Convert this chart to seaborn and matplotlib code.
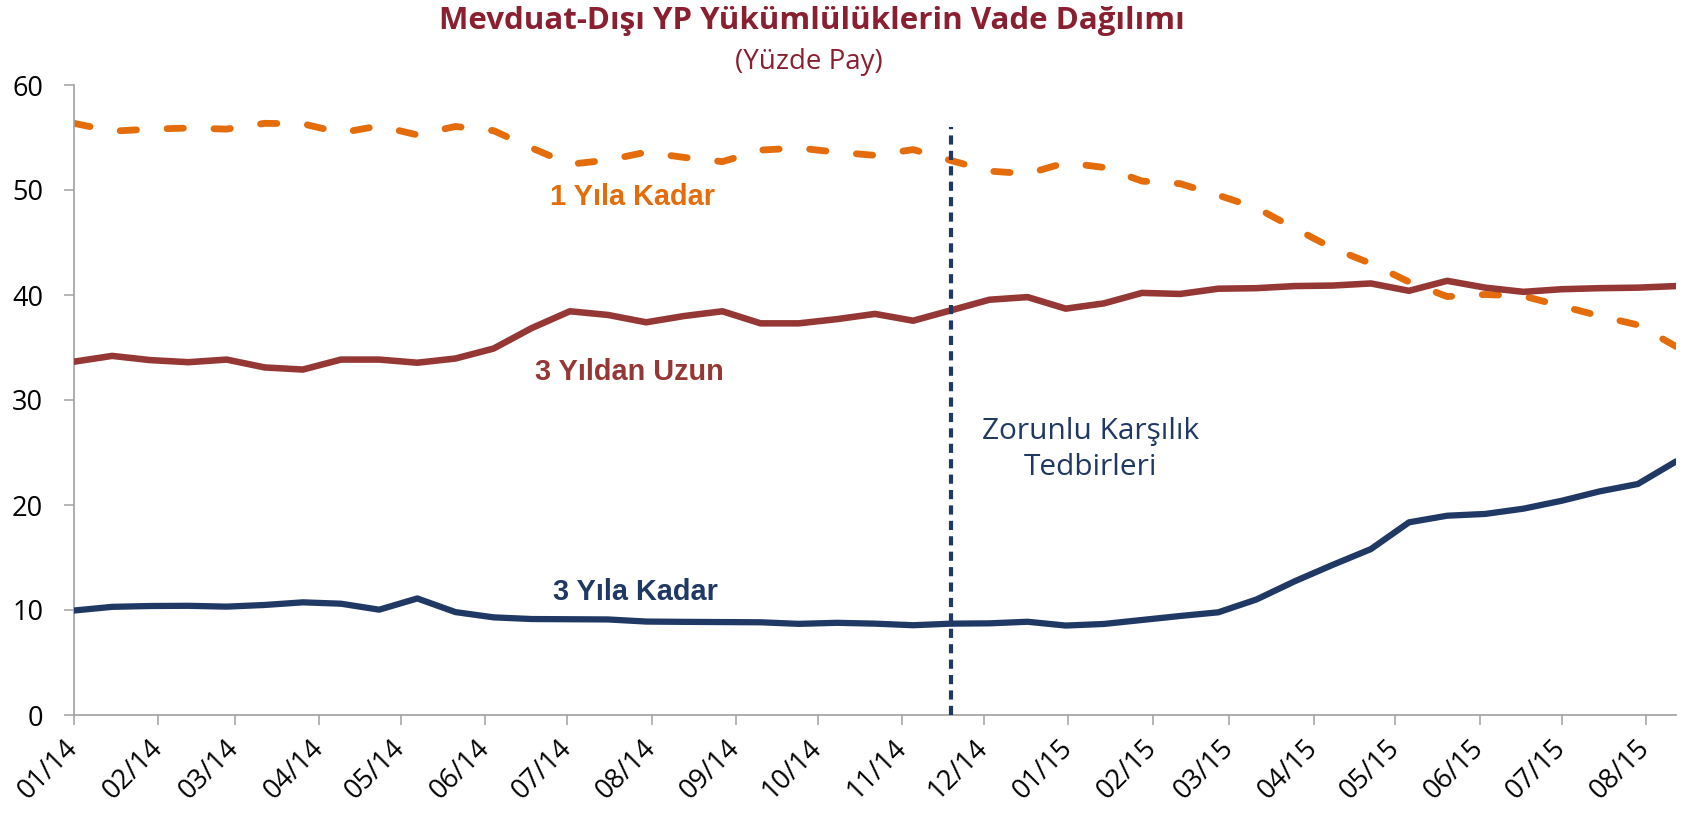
import numpy as np
import pandas as pd
import matplotlib
matplotlib.use("Agg")
import matplotlib.pyplot as plt
import matplotlib.dates as mdates
import seaborn as sns

# ---------------- data ----------------
dates = pd.date_range("2014-01-03", periods=43, freq="14D")

bir_yila_kadar = [56.35, 55.6, 55.8, 55.9, 55.8, 56.35, 56.3, 55.45, 56.1, 55.25,
                  56.05, 55.65, 54.0, 52.45, 52.85, 53.6, 53.1, 52.7, 53.8, 54.0,
                  53.6, 53.3, 53.85, 52.8, 51.8, 51.55, 52.6, 52.15, 50.85, 50.6,
                  49.5, 48.3, 46.35, 44.45, 43.0, 41.25, 39.85, 40.05, 39.9, 38.95,
                  38.0, 37.15, 35.1]

uc_yildan_uzun = [33.65, 34.2, 33.8, 33.6, 33.85, 33.1, 32.9, 33.85, 33.85, 33.55,
                  33.95, 34.9, 36.85, 38.45, 38.1, 37.4, 38.0, 38.45, 37.3, 37.3,
                  37.7, 38.2, 37.55, 38.55, 39.55, 39.8, 38.7, 39.2, 40.2, 40.1,
                  40.6, 40.65, 40.85, 40.9, 41.1, 40.4, 41.35, 40.7, 40.3, 40.55,
                  40.65, 40.7, 40.85]

uc_yila_kadar = [9.95, 10.3, 10.38, 10.4, 10.32, 10.48, 10.73, 10.6, 10.03, 11.1,
                 9.8, 9.3, 9.14, 9.12, 9.1, 8.9, 8.87, 8.85, 8.83, 8.68,
                 8.78, 8.7, 8.55, 8.7, 8.73, 8.88, 8.52, 8.67, 9.05, 9.43,
                 9.78, 11.0, 12.73, 14.3, 15.8, 18.35, 18.98, 19.15, 19.65, 20.4,
                 21.3, 22.0, 24.15]

series_names = ["1 Yıla Kadar", "3 Yıldan Uzun", "3 Yıla Kadar"]
event_date = pd.Timestamp("2014-11-21")
event_top = 56
event_label = "Zorunlu Karşılık\nTedbirleri"
title = "Mevduat-Dışı YP Yükümlülüklerin Vade Dağılımı"
subtitle = "(Yüzde Pay)"
y_ticks = [0, 10, 20, 30, 40, 50, 60]

# ---------------- style ----------------
sns.set_theme(style="white")
plt.rcParams["font.family"] = ["Open Sans", "DejaVu Sans"]

ORANGE = "#E46C0A"
RED = "#953735"
NAVY = "#1F3864"
TITLE_C = "#8A1F30"
AXIS_C = "#A0A0A0"

fig = plt.figure(figsize=(16.83, 8.15), dpi=100)
ax = fig.add_axes([74 / 1683, 100 / 815, 1602 / 1683, 630 / 815])

df1 = pd.DataFrame({"date": dates, "value": bir_yila_kadar})
df2 = pd.DataFrame({"date": dates, "value": uc_yildan_uzun})
df3 = pd.DataFrame({"date": dates, "value": uc_yila_kadar})

sns.lineplot(data=df1, x="date", y="value", ax=ax, color=ORANGE, linewidth=4.9,
             linestyle=(0, (2.4, 4.5)), zorder=2)
ax.lines[-1].set_dash_capstyle("round")
ax.lines[-1].set_dash_joinstyle("round")
sns.lineplot(data=df2, x="date", y="value", ax=ax, color=RED, linewidth=4.7,
             solid_capstyle="round", solid_joinstyle="round", zorder=3)
sns.lineplot(data=df3, x="date", y="value", ax=ax, color=NAVY, linewidth=4.5,
             solid_capstyle="round", solid_joinstyle="round", zorder=3)

# event line
ax.vlines(event_date, 0, event_top, colors=NAVY, linewidth=3.0,
          linestyles=[(0, (2.2, 1.5))], zorder=4)

# axes
ax.set_xlim(dates[0], dates[-1])
ax.set_ylim(0, 60)
ax.set_yticks(y_ticks)
ax.xaxis.set_major_locator(mdates.MonthLocator(bymonthday=3))
ax.xaxis.set_major_formatter(mdates.DateFormatter("%m/%y"))
ax.set_xlabel("")
ax.set_ylabel("")

for s in ["top", "right"]:
    ax.spines[s].set_visible(False)
for s in ["left", "bottom"]:
    ax.spines[s].set_color(AXIS_C)
    ax.spines[s].set_linewidth(1.2)

ax.tick_params(axis="both", direction="out", length=7.2, width=1.1, color=AXIS_C,
               labelsize=19.5, labelcolor="black")
ax.tick_params(axis="y", pad=15, left=True)
ax.tick_params(axis="x", pad=14, bottom=True)
for lab in ax.get_xticklabels():
    lab.set_rotation(45)
    lab.set_ha("right")
    lab.set_va("center")
    lab.set_rotation_mode("anchor")

# series labels
lab_font = ["Liberation Sans", "DejaVu Sans"]
ax.text(pd.Timestamp("2014-07-27"), 49.3, series_names[0], color=ORANGE,
        fontsize=20.8, fontweight="bold", family=lab_font, ha="center", va="center")
ax.text(pd.Timestamp("2014-07-26"), 32.65, series_names[1], color=RED,
        fontsize=20.8, fontweight="bold", family=lab_font, ha="center", va="center")
ax.text(pd.Timestamp("2014-07-28"), 11.75, series_names[2], color=NAVY,
        fontsize=20.8, fontweight="bold", family=lab_font, ha="center", va="center")

ax.text(pd.Timestamp("2015-01-11"), 25.3, event_label, color=NAVY, fontsize=21.5,
        ha="center", va="center", linespacing=1.3)

# titles
fig.text(812 / 1683, 1 - 21.5 / 815, title, color=TITLE_C, fontsize=22.5,
         fontweight="bold", ha="center", va="center")
fig.text(809 / 1683, 1 - 62 / 815, subtitle, color=TITLE_C, fontsize=20,
         ha="center", va="center")

fig.savefig("out.png", dpi=100, facecolor="white")
